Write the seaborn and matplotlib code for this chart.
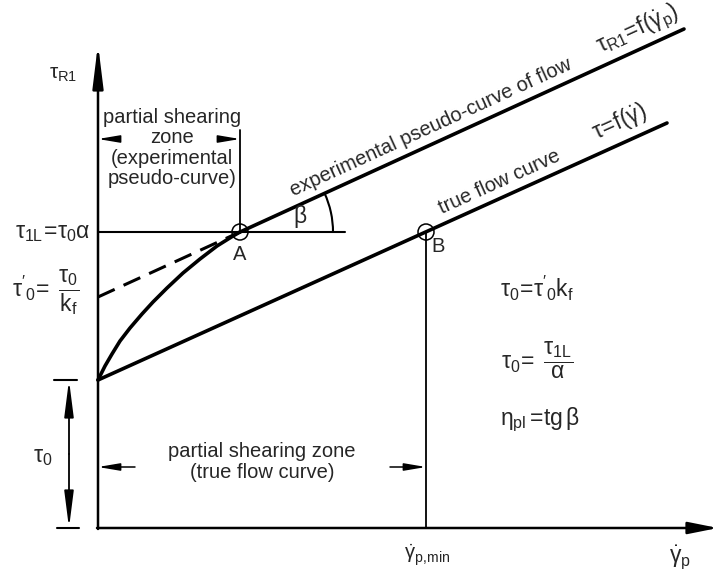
import numpy as np
import pandas as pd
import matplotlib
matplotlib.use("Agg")
import matplotlib.pyplot as plt
import seaborn as sns
from matplotlib.patches import Circle, Arc

# ---- schematic data (x = shear rate, y = shear stress, drawing units) ----
tau0 = 148
pointA = (142, 296)
pointB = (328, 296)

true_x = [0, 569]
true_y = [148, 405]

pseudo_x = [142, 586]
pseudo_y = [296, 499]

dashed_x = [0, 142]
dashed_y = [231, 296]

curve_x = [0, 7, 14, 22, 32, 44, 55, 69, 85, 102, 119, 135, 142]
curve_y = [148, 162, 174, 187, 200, 214, 226, 240, 255, 269, 282, 292, 296]

x_max = 620
y_max = 484

sns.set_theme(style="white")
plt.rcParams['font.family'] = ['Liberation Sans', 'DejaVu Sans']
plt.rcParams['mathtext.fontset'] = 'custom'
plt.rcParams['mathtext.rm'] = 'Liberation Sans'
plt.rcParams['mathtext.it'] = 'Liberation Sans'
plt.rcParams['mathtext.bf'] = 'Liberation Sans:bold'

fig = plt.figure(figsize=(7.18, 5.74), dpi=100)
ax = fig.add_axes([0, 0, 1, 1])
ax.set_xlim(-98, 620)
ax.set_ylim(-46, 528)
ax.axis('off')

K = 'black'
thick = 2.6

def line(xs, ys, **kw):
    df = pd.DataFrame({'x': xs, 'y': ys})
    sns.lineplot(data=df, x='x', y='y', sort=False, estimator=None, ax=ax,
                 color=K, legend=False, solid_joinstyle='round',
                 solid_capstyle='round', **kw)

line(true_x, true_y, linewidth=thick)
line(pseudo_x, pseudo_y, linewidth=thick)
line(curve_x, curve_y, linewidth=thick)
ax.plot(dashed_x, dashed_y, color=K, linewidth=2.2, dashes=(6, 3.2),
        dash_capstyle='butt')

# thin construction lines
ax.plot([0, 247], [pointA[1], pointA[1]], color=K, lw=1.5)
ax.plot([pointB[0], pointB[0]], [0, pointB[1]], color=K, lw=1.3)
ax.plot([pointA[0], pointA[0]], [pointA[1], 398], color=K, lw=1.3)

# axes with arrows
def arrow(x0, y0, x1, y1, hl, hw, lw=1.6):
    ax.annotate('', xy=(x1, y1), xytext=(x0, y0),
                arrowprops=dict(arrowstyle=f'-|>,head_length={hl},head_width={hw}',
                                color=K, lw=lw, shrinkA=0, shrinkB=0,
                                mutation_scale=10))

arrow(0, -1, 0, y_max, 2.6, 0.32, 1.8)
arrow(-1, 0, x_max, 0, 1.8, 0.36, 1.8)

# partial shearing zone arrows (top)
arrow(17, 389, 0, 389, 1.3, 0.22, 1.1)
arrow(124, 389, 142, 389, 1.3, 0.22, 1.1)
# bottom
arrow(37, 61, 0, 61, 1.3, 0.22, 1.1)
arrow(292, 61, pointB[0], 61, 1.3, 0.22, 1.1)

# tau0 dimension
ax.plot([-44, -21], [tau0, tau0], color=K, lw=1.5)
ax.plot([-41, -19], [0, 0], color=K, lw=1.5)
arrow(-29, 74, -29, tau0, 2.2, 0.28, 1.3)
arrow(-29, 74, -29, 0, 2.2, 0.28, 1.3)

# circles at A and B
for p in (pointA, pointB):
    ax.add_patch(Circle(p, 8, fill=False, color=K, lw=1.1))

# angle beta arc
ax.add_patch(Arc(pointA, 186, 186, theta1=0, theta2=24.6, color=K, lw=1.5))

fs = 14.5
fm = 16.5
ax.text(-35, 453, r'$\tau_{R1}$', fontsize=15, ha='center', va='center')
ax.text(-8, 296, r'$\tau_{1L}\!=\!\tau_0\alpha$', fontsize=fm, ha='right', va='center')
ax.text(-52, 236, r"$\tau\mathrm{'}_0\!=\ \dfrac{\tau_0}{k_f}$", fontsize=fm, ha='center', va='center')
ax.text(-55, 71, r'$\tau_0$', fontsize=fm, ha='center', va='center')

ax.text(202, 311, r'$\beta$', fontsize=fm, ha='center', va='center')
ax.text(142, 274, 'A', fontsize=fs, ha='center', va='center')
ax.text(340, 281, 'B', fontsize=fs, ha='center', va='center')

ax.text(74, 380, 'partial shearing\nzone\n(experimental\npseudo-curve)',
        fontsize=fs, ha='center', va='center', linespacing=1.1)
ax.text(164, 66, 'partial shearing zone\n(true flow curve)',
        fontsize=fs, ha='center', va='center', linespacing=1.1)

ax.text(439, 240, r"$\tau_0\!=\!\tau\mathrm{'}_0k_f$", fontsize=fm, ha='center', va='center')
ax.text(439, 168, r"$\tau_0\!=\ \dfrac{\tau_{1L}}{\alpha}$", fontsize=fm, ha='center', va='center')
ax.text(442, 108, r"$\eta_{pl}\,\!=\!\mathrm{tg}\,\beta$", fontsize=fm, ha='center', va='center')

ax.text(329, -27, r'$\dot{\gamma}_{p,\!min}$', fontsize=fs, ha='center', va='center')
ax.text(582, -29, r'$\dot{\gamma}_p$', fontsize=fm, ha='center', va='center')

rot1 = np.degrees(np.arctan2(pseudo_y[1] - pseudo_y[0], pseudo_x[1] - pseudo_x[0]))
rot2 = np.degrees(np.arctan2(true_y[1] - true_y[0], true_x[1] - true_x[0]))
ax.text(333, 401, 'experimental pseudo-curve of flow', fontsize=fs, ha='center',
        va='center', rotation=rot1, rotation_mode='anchor')
ax.text(540, 498, r'$\tau_{R1}\!=\!f(\dot{\gamma}_p)$', fontsize=fm, ha='center',
        va='center', rotation=rot1, rotation_mode='anchor')
ax.text(402, 346, 'true flow curve', fontsize=fs, ha='center',
        va='center', rotation=rot2, rotation_mode='anchor')
ax.text(522, 406, r'$\tau\!=\!f(\dot{\gamma})$', fontsize=fm, ha='center',
        va='center', rotation=rot2, rotation_mode='anchor')

fig.savefig('out.png', dpi=100)
